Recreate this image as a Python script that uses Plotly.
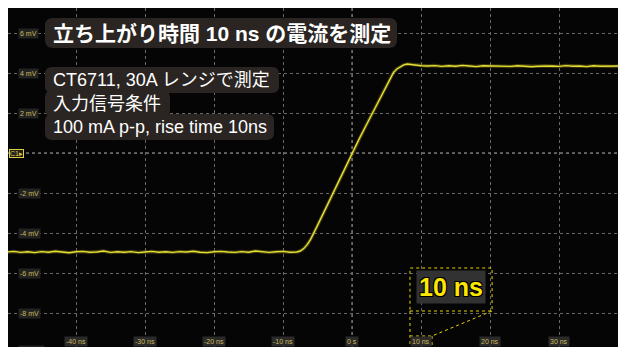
import plotly.graph_objects as go

# ---------------- data ----------------
t_base = list(range(-50, -7))  # -50 .. -8 ns
v_base = [-4.95, -4.92, -4.97, -4.94, -4.98, -4.93, -4.96, -4.91, -4.95, -4.99,
          -4.94, -4.92, -4.96, -4.95, -4.90, -4.97, -4.94, -4.96, -4.93, -4.98,
          -4.95, -4.92, -4.96, -4.94, -4.97, -4.93, -4.95, -4.91, -4.96, -4.98,
          -4.94, -4.92, -4.95, -4.97, -4.93, -4.96, -4.90, -4.95, -4.97, -4.94,
          -4.92, -4.96, -4.95]
t_ramp = [-7.5, -7, -6.5, -6, -5, -4, -3, -2, -1, 0, 1, 2, 3, 4, 5, 5.5, 6, 6.5,
          7, 7.5, 8, 8.5, 9, 10]
v_ramp = [-4.90, -4.78, -4.58, -4.32, -3.62, -2.90, -2.17, -1.45, -0.72, 0.00,
          0.68, 1.35, 2.02, 2.70, 3.38, 3.72, 4.02, 4.20, 4.32, 4.41, 4.45, 4.43,
          4.39, 4.36]
t_top = list(range(11, 40)) + [39.7]
v_top = [4.35, 4.37, 4.33, 4.36, 4.34, 4.38, 4.35, 4.32, 4.36, 4.35,
         4.37, 4.34, 4.33, 4.36, 4.35, 4.31, 4.34, 4.36, 4.35, 4.33,
         4.37, 4.34, 4.35, 4.32, 4.36, 4.34, 4.35, 4.33, 4.36, 4.35]
assert len(t_base) == len(v_base) and len(t_ramp) == len(v_ramp) and len(t_top) == len(v_top)
time_ns = t_base + t_ramp + t_top
current_mv = v_base + v_ramp + v_top

x_ticks = [-40, -30, -20, -10, 0, 10, 20, 30, 40]
x_tick_labels = ["-40 ns", "-30 ns", "-20 ns", "-10 ns", "0 s", "10 ns", "20 ns", "30 ns", "40 ns"]
y_ticks = [6, 4, 2, -2, -4, -6, -8, -10]
y_tick_labels = ["6 mV", "4 mV", "2 mV", "-2 mV", "-4 mV", "-6 mV", "-8 mV", "-10 mV"]

title_text = "立ち上がり時間 10 ns の電流を測定"
info_lines = ["CT6711, 30A レンジで測定", "入力信号条件", "100 mA p-p, rise time 10ns"]
zoom_label = "10 ns"

# ---------------- layout constants ----------------
# page body has an 8px margin; the figure starts at page pixel (8, 8)
OFF = 8
W, H = 618, 339
XR = [-49.86, 39.71]
YR = [-9.7, 7.25]


def px(xp):  # page pixel -> paper fraction
    return (xp - OFF) / W


def py(yp):
    return 1 - (yp - OFF) / H


def rounded(x0, y0, x1, y1, r):
    pts = [("M", x0 + r, y0), ("L", x1 - r, y0), ("Q", x1, y0, x1, y0 + r),
           ("L", x1, y1 - r), ("Q", x1, y1, x1 - r, y1), ("L", x0 + r, y1),
           ("Q", x0, y1, x0, y1 - r), ("L", x0, y0 + r), ("Q", x0, y0, x0 + r, y0)]
    out = []
    for p in pts:
        cmd, vals = p[0], p[1:]
        coords = []
        for i in range(0, len(vals), 2):
            coords.append(f"{px(vals[i]):.5f},{py(vals[i + 1]):.5f}")
        out.append(cmd + " " + " ".join(coords))
    return " ".join(out) + " Z"


FONT = "Liberation Sans, Noto Sans CJK JP, sans-serif"
TRACE = "#e6de34"
LBL = "#cdbb5a"
BOX = "#2a2522"

fig = go.Figure()
fig.add_trace(go.Scatter(x=time_ns, y=current_mv, mode="lines",
                         line=dict(color="rgba(200,190,40,0.3)", width=3.5),
                         hoverinfo="skip", showlegend=False))
fig.add_trace(go.Scatter(x=time_ns, y=current_mv, mode="lines",
                         line=dict(color=TRACE, width=1.4), showlegend=False))

shapes = []
# centre axes
shapes.append(dict(type="line", xref="x", yref="paper", x0=0, x1=0, y0=0, y1=1,
                   line=dict(color="#a8a8a8", width=1, dash="dot"), layer="below"))
shapes.append(dict(type="line", xref="paper", yref="y", x0=0, x1=1, y0=0, y1=0,
                   line=dict(color="#a8a8a8", width=1, dash="dot"), layer="below"))
# zoom indicator (data coords of the 10 ns label region)
ZC = "#e8d400"
shapes.append(dict(type="rect", xref="x", yref="y", x0=8.4, x1=20.3, y0=-7.9, y1=-5.75,
                   line=dict(color=ZC, width=1, dash="dot")))
shapes.append(dict(type="line", xref="x", yref="y", x0=20.3, x1=11.6, y0=-7.9, y1=-9.15,
                   line=dict(color=ZC, width=1, dash="dot")))
shapes.append(dict(type="line", xref="x", yref="y", x0=8.4, x1=8.4, y0=-7.9, y1=-9.7,
                   line=dict(color=ZC, width=1, dash="dot")))
shapes.append(dict(type="line", xref="x", yref="y", x0=8.4, x1=11.6, y0=-9.15, y1=-9.15,
                   line=dict(color=ZC, width=1, dash="dot")))
shapes.append(dict(type="line", xref="x", yref="y", x0=11.6, x1=11.6, y0=-9.15, y1=-9.7,
                   line=dict(color=ZC, width=1, dash="dot")))
# dark rounded backgrounds behind the overlay texts
shapes.append(dict(type="path", xref="paper", yref="paper", path=rounded(45, 18, 397, 48, 8),
                   fillcolor=BOX, line=dict(width=0)))
info_box_right = [279, 170, 274]
for i, xr in enumerate(info_box_right):
    yc = 80 + 23.5 * i
    shapes.append(dict(type="path", xref="paper", yref="paper",
                       path=rounded(45, yc - 13, xr, yc + 13, 7),
                       fillcolor=BOX, line=dict(width=0)))

ann = []
# y tick labels
for v, s in zip(y_ticks, y_tick_labels):
    yy = v if v > YR[0] else YR[0] + 0.05
    ann.append(dict(x=XR[0] + 1.4, y=yy, xref="x", yref="y", text=s, showarrow=False,
                    xanchor="left", yanchor="middle", yshift=(-4 if v <= YR[0] else 0),
                    font=dict(family=FONT, size=7, color=LBL), bgcolor="#232323", borderpad=1))
# x tick labels
for v, s in zip(x_ticks, x_tick_labels):
    xx = v if v < XR[1] else XR[1] - 0.05
    ann.append(dict(x=xx, y=YR[0], xref="x", yref="y", text=s, showarrow=False,
                    xanchor=("center" if v < XR[1] else "left"), xshift=(-5 if v >= XR[1] else 0),
                    yanchor="bottom", yshift=0,
                    font=dict(family=FONT, size=7, color=LBL), bgcolor="#2a2a2a", borderpad=1))
# channel marker at 0
ann.append(dict(x=px(9), y=0, xref="paper", yref="y", text="C1▸", showarrow=False,
                xanchor="left", yanchor="middle",
                font=dict(family=FONT, size=7, color="#e0d040"), bgcolor="#1e1e1e",
                bordercolor="#e0d040", borderwidth=1, borderpad=0))
# title
ann.append(dict(x=px(51), y=py(33), xref="paper", yref="paper", text=title_text, showarrow=False,
                xanchor="left", yanchor="middle",
                font=dict(family=FONT, size=21, color="#ffffff", weight="bold")))
# info block
for i, line in enumerate(info_lines):
    ann.append(dict(x=px(51), y=py(80 + 23.5 * i), xref="paper", yref="paper", text=line,
                    showarrow=False, xanchor="left", yanchor="middle",
                    font=dict(family=FONT, size=18, color="#ffffff")))
# zoom label
ann.append(dict(x=14.3, y=-6.68, xref="x", yref="y", text=zoom_label, showarrow=False,
                xanchor="center", yanchor="middle",
                font=dict(family="Liberation Sans, sans-serif", size=25, color="#ffe800", weight="bold",
                          shadow="-1px -1px 0 #000, 1px -1px 0 #000, -1px 1px 0 #000, 1px 1px 0 #000"),
                bgcolor="#323232", borderpad=2))

fig.update_layout(
    width=W, height=H, margin=dict(l=0, r=0, t=0, b=0),
    paper_bgcolor="#ffffff", plot_bgcolor="#050505",
    shapes=shapes, annotations=ann, showlegend=False,
)
fig.update_xaxes(range=XR, tick0=0, dtick=10, showgrid=True, gridcolor="#686868", griddash="dot",
                 gridwidth=1, zeroline=False, showticklabels=False, ticks="", showline=False)
fig.update_yaxes(range=YR, tick0=0, dtick=2, showgrid=True, gridcolor="#686868", griddash="dot",
                 gridwidth=1, zeroline=False, showticklabels=False, ticks="", showline=True,
                 linecolor="#8c8c8c", linewidth=1)

fig.write_html("out.html")
